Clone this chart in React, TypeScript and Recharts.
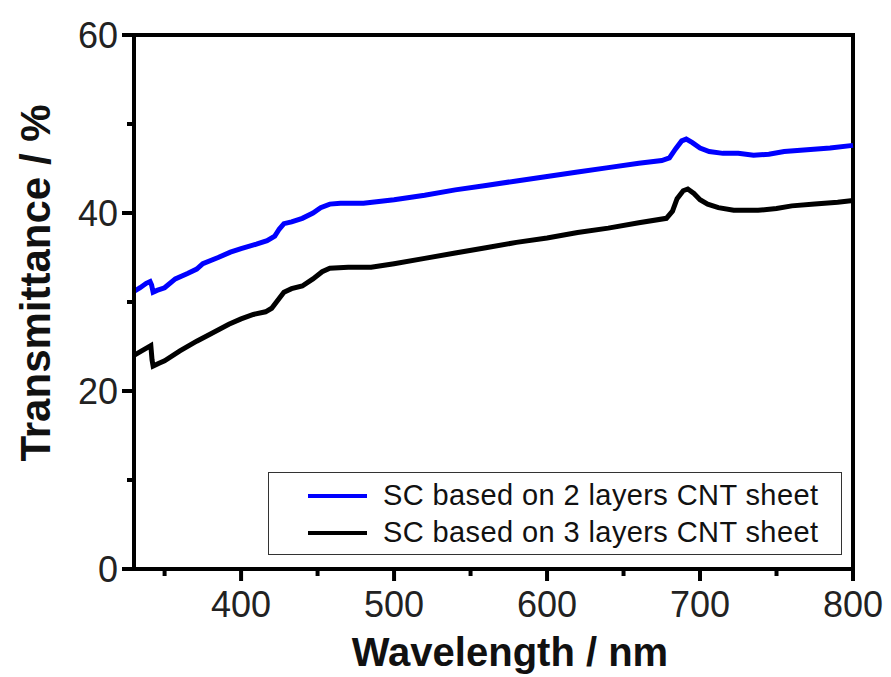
import { LineChart, Line, XAxis, YAxis, ReferenceArea, Legend, Label } from 'recharts'

// SC based on 2 layers CNT sheet (blue)
const wavelength2 = [
  330, 334, 338, 340.5, 341.5, 342.5, 345, 350, 357, 365, 371, 375, 385, 393, 400, 410, 417, 422, 425,
  428, 433, 440, 447, 452, 458, 465, 480, 490, 500, 520, 540, 560, 580, 600, 620, 640, 660, 675, 680,
  684, 688, 691, 695, 700, 706, 715, 725, 735, 745, 755, 770, 785, 800,
]
const trans2 = [
  31.2, 31.6, 32.1, 32.3, 31.9, 31.1, 31.3, 31.6, 32.6, 33.2, 33.7, 34.3, 35.0, 35.6, 36.0, 36.5, 36.9, 37.4, 38.2,
  38.8, 39.0, 39.4, 40.0, 40.6, 41.0, 41.1, 41.1, 41.3, 41.5, 42.0, 42.6, 43.1, 43.6, 44.1, 44.6, 45.1, 45.6, 45.9, 46.2,
  47.2, 48.1, 48.3, 47.9, 47.3, 46.9, 46.7, 46.7, 46.5, 46.6, 46.9, 47.1, 47.3, 47.6,
]

// SC based on 3 layers CNT sheet (black)
const wavelength3 = [
  330, 335, 339, 341, 341.8, 342.5, 346, 350, 360, 371, 380, 392, 400, 408, 416, 420, 424, 428, 433,
  440, 447, 453, 458, 470, 485, 500, 520, 540, 560, 580, 600, 620, 640, 660, 678, 682, 685, 689, 692,
  696, 700, 705, 712, 722, 738, 750, 760, 775, 790, 800,
]
const trans3 = [
  24.0, 24.5, 24.9, 25.1, 23.5, 22.8, 23.1, 23.4, 24.5, 25.6, 26.4, 27.5, 28.1, 28.6, 28.9, 29.3, 30.2, 31.1, 31.5,
  31.8, 32.6, 33.4, 33.8, 33.9, 33.9, 34.3, 34.9, 35.5, 36.1, 36.7, 37.2, 37.8, 38.3, 38.9, 39.4, 40.2, 41.6, 42.5, 42.7,
  42.2, 41.5, 41.0, 40.6, 40.3, 40.3, 40.5, 40.8, 41.0, 41.2, 41.4,
]

const xTicks = [350, 400, 450, 500, 550, 600, 650, 700, 750, 800]
const yTicks = [0, 10, 20, 30, 40, 50, 60]

const series = [
  { name: 'SC based on 2 layers CNT sheet', color: '#0000ff', x: wavelength2, y: trans2 },
  { name: 'SC based on 3 layers CNT sheet', color: '#000000', x: wavelength3, y: trans3 },
]

const FONT = '"Liberation Sans", Arial, sans-serif'

const XTick = (props: any) => {
  const { x, y, payload } = props
  const major = payload.value % 100 === 0
  return (
    <g>
      <line x1={x} x2={x} y1={y} y2={y + (major ? 12 : 7)} stroke="#000" strokeWidth={4} />
      {major && (
        <text x={x} y={y + 48} textAnchor="middle" fontSize={36} fill="#222" fontFamily={FONT}>
          {payload.value}
        </text>
      )}
    </g>
  )
}

const YTick = (props: any) => {
  const { x, y, payload } = props
  const major = payload.value % 20 === 0
  return (
    <g>
      <line x1={x - (major ? 12 : 7)} x2={x} y1={y} y2={y} stroke="#000" strokeWidth={4} />
      {major && (
        <text x={x - 16} y={y + 13} textAnchor="end" fontSize={36} fill="#222" fontFamily={FONT}>
          {payload.value}
        </text>
      )}
    </g>
  )
}

const XTitle = () => (
  <text x={510} y={666} textAnchor="middle" fontSize={40} fontWeight="bold" fontFamily={FONT} fill="#111">
    Wavelength / nm
  </text>
)

const YTitle = () => (
  <text
    x={0}
    y={0}
    transform="translate(50, 283) rotate(-90)"
    textAnchor="middle"
    fontSize={42}
    fontWeight="bold"
    fontFamily={FONT}
    fill="#111"
  >
    Transmittance / %
  </text>
)

const renderLegend = () => (
  <div
    style={{
      width: 574,
      height: 83,
      boxSizing: 'border-box',
      border: '1.5px solid #333',
      background: '#fff',
      paddingTop: 4,
      fontFamily: FONT,
    }}
  >
    {series.map(s => (
      <div key={s.name} style={{ display: 'flex', alignItems: 'center', height: 37 }}>
        <div style={{ width: 59, height: 4, background: s.color, marginLeft: 39 }} />
        <span style={{ marginLeft: 16, fontSize: 29, letterSpacing: 0.4, color: '#111', whiteSpace: 'nowrap' }}>
          {s.name}
        </span>
      </div>
    ))}
  </div>
)

export default function App() {
  return (
    <div style={{ position: 'absolute', left: 0, top: 0, background: '#fff' }}>
      <LineChart width={891} height={677} margin={{ top: 35, right: 38, bottom: 0, left: 0 }}>
        <XAxis
          dataKey="x"
          type="number"
          domain={[330, 800]}
          ticks={xTicks}
          tick={XTick}
          tickLine={false}
          tickSize={0}
          tickMargin={0}
          height={108}
          axisLine={{ stroke: '#000', strokeWidth: 4 }}
          allowDuplicatedCategory={false}
        >
          <Label content={XTitle} />
        </XAxis>
        <YAxis
          type="number"
          domain={[0, 60]}
          ticks={yTicks}
          tick={YTick}
          tickLine={false}
          tickSize={0}
          tickMargin={0}
          width={134}
          axisLine={{ stroke: '#000', strokeWidth: 4 }}
        >
          <Label content={YTitle} />
        </YAxis>
        <ReferenceArea x1={330} x2={800} y1={0} y2={60} fill="none" stroke="#000" strokeWidth={4} ifOverflow="visible" />
        {series.map(s => (
          <Line
            key={s.name}
            name={s.name}
            data={s.x.map((w, i) => ({ x: w, y: s.y[i] }))}
            dataKey="y"
            type="linear"
            stroke={s.color}
            strokeWidth={5}
            dot={false}
            isAnimationActive={false}
          />
        ))}
        <Legend
          layout="vertical"
          align="center"
          verticalAlign="middle"
          content={renderLegend}
          wrapperStyle={{ position: 'absolute', left: 268, top: 472, width: 574, height: 83 }}
        />
      </LineChart>
    </div>
  )
}
